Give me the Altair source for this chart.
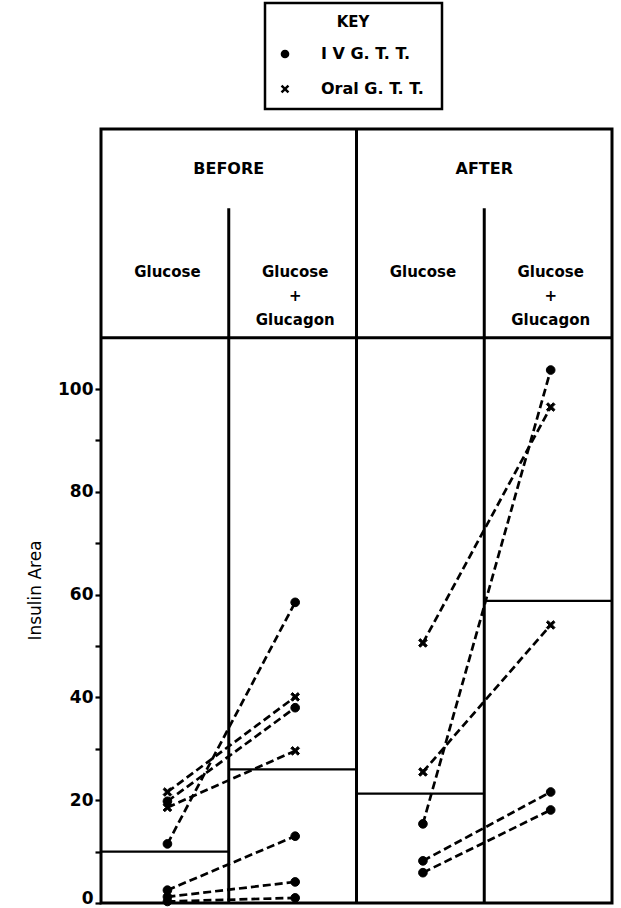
import altair as alt
import pandas as pd

# ---------------- data ----------------
columns = ["Before: Glucose", "Before: Glucose + Glucagon",
           "After: Glucose", "After: Glucose + Glucagon"]
groups = ["BEFORE", "AFTER"]
column_labels = ["Glucose", "Glucose\n+\nGlucagon", "Glucose", "Glucose\n+\nGlucagon"]
tests = ["I V  G. T. T.", "Oral  G. T. T."]

# horizontal level drawn across each column
column_level = [10.0, 26.0, 21.3, 58.8]

# paired values: glucose -> glucose + glucagon
before_iv_glucose = [11.5, 19.8, 2.5, 1.2, 0.3]
before_iv_glucagon = [58.5, 38.0, 13.0, 4.1, 1.0]
before_oral_glucose = [21.6, 18.6]
before_oral_glucagon = [40.1, 29.6]
after_iv_glucose = [15.4, 8.2, 5.9]
after_iv_glucagon = [103.7, 21.6, 18.1]
after_oral_glucose = [50.6, 25.5]
after_oral_glucagon = [96.5, 54.1]

y_ticks = [0, 10, 20, 30, 40, 50, 60, 70, 80, 90, 100]

# ---------------- layout constants ----------------
Y_TOP = 150.6          # top of the framed box (header included)
HEADER_Y = 110.0       # line separating header from plot
SUBHEADER_TOP = 135.2  # where the column dividers start
GROUP_LABEL_Y = 142.8
COLUMN_LABEL_Y = 122.8
X_OFF = 0.52           # position of points within a column
FONT = "DejaVu Sans"
# a filled "x" glyph (polygon) so that it renders both in marks and legend
X_PATH = ("M-1,-0.6L-0.6,-1L0,-0.4L0.6,-1L1,-0.6L0.4,0L1,0.6L0.6,1"
          "L0,0.4L-0.6,1L-1,0.6L-0.4,0Z")

# ---------------- tables ----------------
rows = []
series = [
    (0, tests[0], before_iv_glucose, before_iv_glucagon),
    (0, tests[1], before_oral_glucose, before_oral_glucagon),
    (1, tests[0], after_iv_glucose, after_iv_glucagon),
    (1, tests[1], after_oral_glucose, after_oral_glucagon),
]
for stage, test, left, right in series:
    for i, (a, b) in enumerate(zip(left, right)):
        pid = f"{groups[stage]}-{test}-{i}"
        rows.append({"pair": pid, "test": test, "column": columns[2 * stage],
                     "x": 2 * stage + X_OFF, "value": a})
        rows.append({"pair": pid, "test": test, "column": columns[2 * stage + 1],
                     "x": 2 * stage + 1 + X_OFF, "value": b})
points = pd.DataFrame(rows)

levels = pd.DataFrame({
    "column": columns,
    "x": list(range(4)),
    "x2": [i + 1 for i in range(4)],
    "level": column_level,
})

frame = pd.DataFrame([
    {"x": 0, "x2": 4, "y": HEADER_Y, "y2": HEADER_Y},
    {"x": 2, "x2": 2, "y": 0, "y2": Y_TOP},
    {"x": 1, "x2": 1, "y": 0, "y2": SUBHEADER_TOP},
    {"x": 3, "x2": 3, "y": 0, "y2": SUBHEADER_TOP},
])

group_df = pd.DataFrame({"label": groups, "x": [1, 3], "y": [GROUP_LABEL_Y] * 2})
col_df = pd.DataFrame({"label": column_labels,
                       "x": [i + X_OFF for i in range(4)],
                       "y": [COLUMN_LABEL_Y] * 4})

xs = alt.Scale(domain=[0, 4], nice=False, zero=False)
ys = alt.Scale(domain=[0, Y_TOP], nice=False, zero=True)

y_axis = alt.Axis(
    values=y_ticks,
    labelExpr="datum.value % 20 == 0 ? datum.label : ''",
    labelBaseline=alt.ExprRef(expr="datum.value == 0 ? 'alphabetic' : 'middle'"),
    tickSize=6, tickWidth=2.2, tickColor="black",
    domain=False, grid=False,
    labelFont=FONT, labelFontSize=17, labelFontWeight="bold",
    labelColor="black", labelPadding=2,
    title="Insulin Area", titleFont=FONT, titleFontSize=17,
    titleFontWeight="normal", titleColor="black",
    titleX=-66, titleY=461, titleAngle=270,
    titleAlign="center", titleBaseline="middle",
)

frame_layer = alt.Chart(frame).mark_rule(color="black", strokeWidth=3).encode(
    x=alt.X("x:Q", scale=xs, axis=None),
    x2="x2:Q",
    y=alt.Y("y:Q", scale=ys, axis=y_axis),
    y2="y2:Q",
)

level_layer = alt.Chart(levels).mark_rule(color="black", strokeWidth=2.2).encode(
    x=alt.X("x:Q", scale=xs, axis=None),
    x2="x2:Q",
    y=alt.Y("level:Q", scale=ys),
)

line_layer = alt.Chart(points).mark_line(
    color="black", strokeWidth=2.7, strokeDash=[8, 4]
).encode(
    x=alt.X("x:Q", scale=xs, axis=None),
    y=alt.Y("value:Q", scale=ys),
    detail="pair:N",
    order="x:Q",
)

point_layer = alt.Chart(points).mark_point(
    filled=True, fill="black", stroke="black", strokeWidth=1, size=75, opacity=1
).encode(
    x=alt.X("x:Q", scale=xs, axis=None),
    y=alt.Y("value:Q", scale=ys),
    shape=alt.Shape(
        "test:N",
        scale=alt.Scale(domain=tests, range=["circle", X_PATH]),
        legend=alt.Legend(title="KEY", orient="none", legendX=164, legendY=-126,
                          direction="vertical"),
    ),
)

group_layer = alt.Chart(group_df).mark_text(
    font=FONT, fontSize=16, fontWeight="bold", color="black",
    align="center", baseline="middle",
).encode(
    x=alt.X("x:Q", scale=xs, axis=None),
    y=alt.Y("y:Q", scale=ys),
    text="label:N",
)

col_layer = alt.Chart(col_df).mark_text(
    font=FONT, fontSize=15, fontWeight="bold", color="black",
    align="center", baseline="middle", lineBreak="\n", lineHeight=24,
).encode(
    x=alt.X("x:Q", scale=xs, axis=None),
    y=alt.Y("y:Q", scale=ys),
    text="label:N",
)

chart = alt.layer(
    frame_layer, level_layer, line_layer, point_layer, group_layer, col_layer
).properties(
    width=511, height=774,
    autosize=alt.AutoSizeParams(type="none"),
    padding={"left": 101, "top": 129, "right": 9, "bottom": 5},
    background="white",
).configure_view(
    stroke="black", strokeWidth=3
).configure_legend(
    strokeColor="black", strokeWidth=2.5, padding=12,
    titleFont=FONT, titleFontSize=15, titleFontWeight="bold", titleColor="black",
    titleAnchor="middle", titlePadding=16,
    labelFont=FONT, labelFontSize=16, labelFontWeight="bold", labelColor="black",
    labelOffset=28, rowPadding=19,
    symbolSize=75, symbolStrokeWidth=1,
    symbolFillColor="black", symbolStrokeColor="black",
)

chart.save("out.html", embed_options={"renderer": "svg", "actions": False})
